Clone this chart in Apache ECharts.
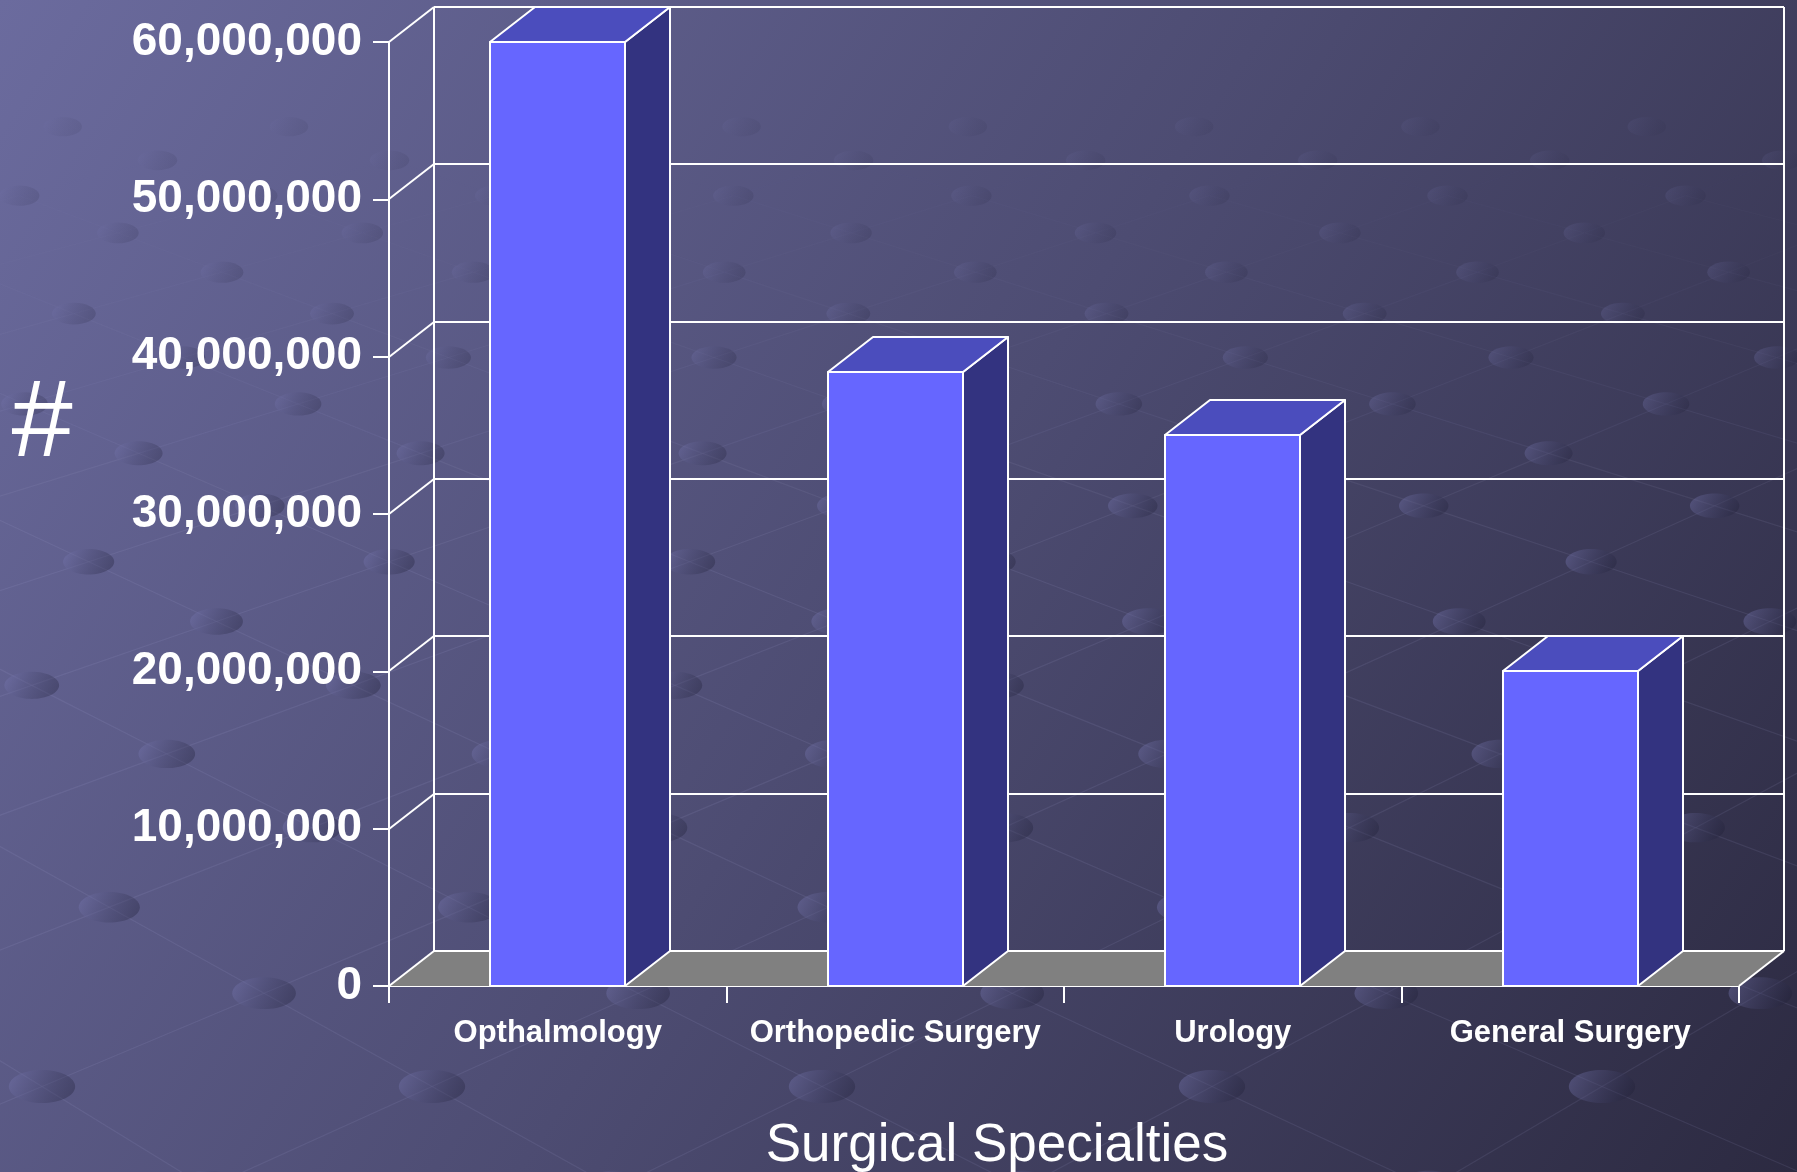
<!DOCTYPE html>
<html>
<head>
<meta charset="utf-8">
<title>Surgical Specialties</title>
<script src="https://cdn.jsdelivr.net/npm/echarts@6/dist/echarts.min.js"></script>
<style>
  html, body { margin: 0; padding: 0; width: 100%; height: 100%; overflow: hidden; }
  #chart { width: 1797px; height: 1172px; }
</style>
</head>
<body>
<div id="chart"></div>
<script>
// Procedure counts by surgical specialty
const categories = ['Opthalmology', 'Orthopedic Surgery', 'Urology', 'General Surgery'];
const procedureCounts = [60000000, 39000000, 35000000, 20000000];
const yTicks = [0, 10000000, 20000000, 30000000, 40000000, 50000000, 60000000];

const FONT = 'Liberation Sans, Arial, Helvetica, sans-serif';
const DX = 45;      // depth offset of the 3D box, horizontal
const DY = -35;     // depth offset of the 3D box, vertical
const EDGE = '#ffffff';
const FRONT = '#6666ff';
const TOP = '#4b4dbd';
const SIDE = '#333380';
const FLOOR = '#808080';
const W = 1797, H = 1172;

const r = Math.round;

function fmt(v) {
  return String(v).replace(/\B(?=(\d{3})+(?!\d))/g, ',');
}

// Decorative backdrop: a lattice of beads seen in perspective, fading out towards the top
function backdrop() {
  const els = [];
  const horizon = -1200, depth0 = 23.5, spread = 53733, step0 = 390, vx = 900;
  const rows = [];
  for (let j = -1; j < 40; j++) {
    const z = depth0 + j;
    const y = horizon + spread / z;
    if (y < 110) break;
    const s = step0 * depth0 / z;
    rows.push({ y, s, phase: (j % 2 === 0 ? 0.8 : 0.3), fade: Math.max(0, Math.min(1, (y - 110) / 420)) });
  }
  for (let n = 0; n < rows.length - 1; n++) {
    const a = rows[n], b = rows[n + 1];
    const kMin = Math.floor(-vx / a.s) - 3, kMax = Math.ceil((W - vx) / a.s) + 3;
    for (let k = kMin; k <= kMax; k++) {
      const u = k + a.phase;
      const x = vx + u * a.s;
      if (x < -a.s * 2 || x > W + a.s * 2) continue;
      for (const du of [-0.5, 0.5]) {
        els.push({
          type: 'line', silent: true, z: -10,
          shape: { x1: x, y1: a.y, x2: vx + (u + du) * b.s, y2: b.y },
          style: { stroke: 'rgba(190,190,235,' + (0.10 * b.fade).toFixed(3) + ')', lineWidth: 1.2 }
        });
      }
    }
  }
  for (const row of rows) {
    if (row.y > H + 40) continue;
    const rx = row.s * 0.085, ry = rx * 0.5;
    const kMin = Math.floor(-vx / row.s) - 2, kMax = Math.ceil((W - vx) / row.s) + 2;
    for (let k = kMin; k <= kMax; k++) {
      const x = vx + (k + row.phase) * row.s;
      if (x < -rx || x > W + rx) continue;
      els.push({
        type: 'ellipse', silent: true, z: -9,
        shape: { cx: x, cy: row.y, rx, ry },
        style: {
          opacity: 0.25 + 0.75 * row.fade,
          fill: {
            type: 'linear', x: 0, y: 0, x2: 1, y2: 1,
            colorStops: [
              { offset: 0, color: 'rgba(125,125,185,0.42)' },
              { offset: 1, color: 'rgba(20,20,40,0.32)' }
            ]
          }
        }
      });
    }
  }
  return els;
}

// back wall gridlines, diagonal connectors and floor
function renderFrame(params, api) {
  const v = api.value(1);
  const p = api.coord([0, v]);
  const cs = params.coordSys;
  const left = r(cs.x), right = r(cs.x + cs.width), y = r(p[1]), top = r(cs.y);
  const line = (x1, y1, x2, y2) => ({
    type: 'line',
    shape: { x1, y1, x2, y2 },
    style: { stroke: EDGE, lineWidth: 2 }
  });
  const children = [];
  if (v === 0) {
    children.push({
      type: 'polygon',
      shape: { points: [[left, y], [right, y], [right + DX, y + DY], [left + DX, y + DY]] },
      style: { fill: FLOOR }
    });
    children.push(line(right, y, right + DX, y + DY));
    children.push(line(left + DX, y + DY, left + DX, top + DY));
    children.push(line(right + DX, y + DY, right + DX, top + DY));
  }
  children.push(line(left, y, left + DX, y + DY));
  children.push(line(left + DX, y + DY, right + DX, y + DY));
  return { type: 'group', children };
}

// 3D bar: side face, top face, front face
function renderBar(params, api) {
  const i = api.value(0);
  const v = api.value(1);
  const top = api.coord([i, v]);
  const base = api.coord([i, 0]);
  const w = r(api.size([1, 0])[0] * 0.4);
  const x0 = r(top[0] - w / 2), x1 = x0 + w;
  const yT = r(top[1]), yB = r(base[1]);
  const st = (fill) => ({ fill, stroke: EDGE, lineWidth: 2, lineJoin: 'round' });
  return {
    type: 'group',
    children: [
      { type: 'polygon', shape: { points: [[x1, yT], [x1, yB], [x1 + DX, yB + DY], [x1 + DX, yT + DY]] }, style: st(SIDE) },
      { type: 'polygon', shape: { points: [[x0, yT], [x1, yT], [x1 + DX, yT + DY], [x0 + DX, yT + DY]] }, style: st(TOP) },
      { type: 'rect', shape: { x: x0, y: yT, width: w, height: yB - yT }, style: st(FRONT) }
    ]
  };
}

const chart = echarts.init(document.getElementById('chart'), null, { renderer: 'canvas' });

chart.setOption({
  backgroundColor: {
    type: 'linear', x: 0, y: 0, x2: 1, y2: 1,
    colorStops: [
      { offset: 0, color: '#6b6b9e' },
      { offset: 0.5, color: '#4d4c72' },
      { offset: 1, color: '#2c2a41' }
    ]
  },
  animation: false,
  grid: { left: 389, right: 58, top: 42, bottom: 186 },
  xAxis: {
    type: 'category',
    data: categories,
    boundaryGap: true,
    axisLine: { lineStyle: { color: EDGE, width: 2 } },
    axisTick: { show: true, interval: 0, length: 17, lineStyle: { color: EDGE, width: 2 } },
    axisLabel: {
      interval: 0,
      color: '#ffffff', fontFamily: FONT, fontWeight: 'bold', fontSize: 31, margin: 32
    },
    splitLine: { show: false }
  },
  yAxis: {
    type: 'value',
    min: 0,
    max: 60000000,
    interval: 10000000,
    axisLine: { show: true, lineStyle: { color: EDGE, width: 2 } },
    axisTick: { show: true, length: 16, lineStyle: { color: EDGE, width: 2 } },
    axisLabel: {
      color: '#ffffff', fontFamily: FONT, fontWeight: 'bold', fontSize: 46, margin: 27,
      formatter: fmt
    },
    splitLine: { show: false }
  },
  graphic: backdrop().concat([
    {
      type: 'text', x: 42, y: 426, z: 10,
      style: { text: '#', fill: '#ffffff', font: '110px ' + FONT, textAlign: 'center', textVerticalAlign: 'middle' }
    },
    {
      type: 'text', x: 997, y: 1146, z: 10,
      style: { text: 'Surgical Specialties', fill: '#ffffff', font: '53px ' + FONT, textAlign: 'center', textVerticalAlign: 'middle' }
    }
  ]),
  series: [
    {
      type: 'custom',
      name: 'frame',
      z: 1,
      silent: true,
      renderItem: renderFrame,
      encode: { x: 0, y: 1 },
      data: yTicks.map(v => [0, v])
    },
    {
      type: 'custom',
      name: 'Procedures',
      z: 3,
      renderItem: renderBar,
      encode: { x: 0, y: 1 },
      data: procedureCounts.map((v, i) => [i, v])
    }
  ]
});
</script>
</body>
</html>
